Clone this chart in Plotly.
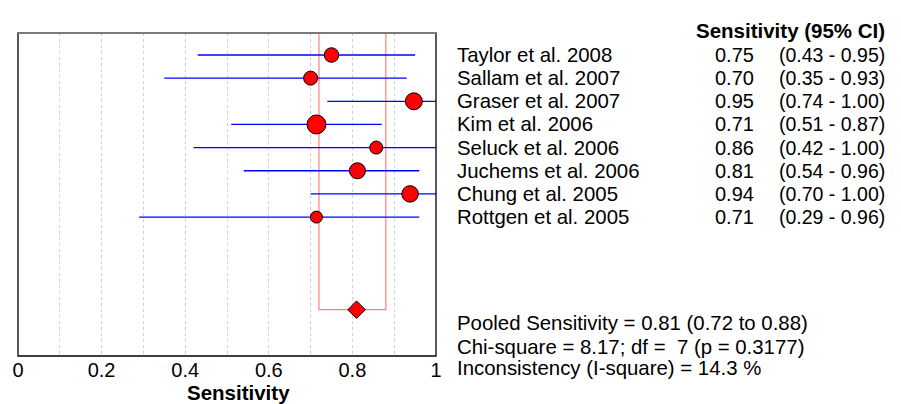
import plotly.graph_objects as go

# ---------------- data ----------------
studies = ["Taylor et al. 2008", "Sallam et al. 2007", "Graser et al. 2007", "Kim et al. 2006",
           "Seluck et al. 2006", "Juchems et al. 2006", "Chung et al. 2005", "Rottgen et al. 2005"]
sens = [0.75, 0.70, 0.947, 0.714, 0.857, 0.812, 0.938, 0.714]
ci_low = [0.43, 0.35, 0.74, 0.51, 0.42, 0.54, 0.70, 0.29]
ci_high = [0.95, 0.93, 1.00, 0.87, 1.00, 0.96, 1.00, 0.96]
pooled = 0.81
pooled_low = 0.72
pooled_high = 0.88
chi_square = 8.17
df = 7
p_value = 0.3177
i_square = 14.3
x_ticks = [0, 0.1, 0.2, 0.3, 0.4, 0.5, 0.6, 0.7, 0.8, 0.9, 1.0]
x_ticktext = ["0", "", "0.2", "", "0.4", "", "0.6", "", "0.8", "", "1"]

# ---------------- style ----------------
marker_sizes = [14.5, 14, 17, 19, 13, 16, 16.5, 12]
FONT = "Liberation Sans, Arial, sans-serif"
rows = list(range(1, len(studies) + 1))
pooled_row = 12
Y_TOP = 0.05
Y_BOT = 14.0

fig = go.Figure()

# pooled CI box (red)
fig.add_trace(go.Scatter(
    x=[pooled_low, pooled_low, pooled_high, pooled_high],
    y=[Y_TOP, pooled_row, pooled_row, Y_TOP],
    mode="lines", line=dict(color="rgba(255,40,40,0.6)", width=1.2),
    hoverinfo="skip", showlegend=False))

# study estimates with CI
fig.add_trace(go.Scatter(
    x=sens, y=rows, mode="markers",
    marker=dict(symbol="circle", size=marker_sizes, color="#ff0000", opacity=1,
                line=dict(color="#000000", width=1)),
    error_x=dict(type="data", symmetric=False,
                 array=[h - s for h, s in zip(ci_high, sens)],
                 arrayminus=[s - l for s, l in zip(sens, ci_low)],
                 color="#0000ff", thickness=1.3, width=0),
    cliponaxis=False, showlegend=False))

# pooled diamond
fig.add_trace(go.Scatter(
    x=[pooled], y=[pooled_row], mode="markers",
    marker=dict(symbol="diamond", size=13.5, color="#ff0000", opacity=1,
                line=dict(color="#000000", width=1)),
    showlegend=False))

L, R, T, B = 16, 465, 33, 48
W, H = 901, 404
pw = W - L - R
ph = H - T - B


def px_x(p):
    return (p - L) / pw


def px_y(p):
    return (H - B - p) / ph


ann = []
for i, name in enumerate(studies):
    ann.append(dict(x=px_x(455), y=rows[i], xref="paper", yref="y", text=name,
                    xanchor="left", yanchor="middle", showarrow=False,
                    font=dict(size=20.4, family=FONT, color="#000")))
    ann.append(dict(x=px_x(758), y=rows[i], xref="paper", yref="y", text=f"{sens[i]:.2f}",
                    xanchor="right", yanchor="middle", showarrow=False,
                    font=dict(size=20, family=FONT, color="#000")))
    ann.append(dict(x=px_x(889), y=rows[i], xref="paper", yref="y",
                    text=f"({ci_low[i]:.2f} - {ci_high[i]:.2f})",
                    xanchor="right", yanchor="middle", showarrow=False,
                    font=dict(size=19.5, family=FONT, color="#000")))

ann.append(dict(x=px_x(889), y=px_y(31), xref="paper", yref="paper",
                text="<b>Sensitivity (95% CI)</b>", xanchor="right", yanchor="middle",
                showarrow=False, font=dict(size=20.5, family=FONT, color="#000")))

summary = [
    (f"Pooled Sensitivity = {pooled:.2f} ({pooled_low:.2f} to {pooled_high:.2f})", 323),
    (f"Chi-square = {chi_square:.2f}; df = \u00a0{df} (p = {p_value:.4f})", 346.5),
    (f"Inconsistency (I-square) = {i_square:.1f} %", 367.5),
]
for txt, yp in summary:
    ann.append(dict(x=px_x(455), y=px_y(yp), xref="paper", yref="paper", text=txt,
                    xanchor="left", yanchor="middle", showarrow=False,
                    font=dict(size=20.4, family=FONT, color="#000")))

ann.append(dict(x=px_x(238), y=px_y(392), xref="paper", yref="paper",
                text="<b>Sensitivity</b>", xanchor="center", yanchor="middle",
                showarrow=False, font=dict(size=20.5, family=FONT, color="#000")))

shapes = [
    dict(type="rect", xref="paper", yref="paper", x0=0, x1=1, y0=0, y1=1,
         line=dict(color="#000000", width=1.3), layer="above"),
    dict(type="line", xref="paper", yref="paper", x0=0, x1=1, y0=1, y1=1,
         line=dict(color="#7a7a7a", width=2), layer="above"),
]

fig.update_layout(
    width=W, height=H,
    margin=dict(l=L, r=R, t=T, b=B, pad=0),
    paper_bgcolor="#ffffff", plot_bgcolor="#ffffff",
    font=dict(family=FONT, size=20, color="#000"),
    xaxis=dict(range=[0, 1], tickvals=x_ticks, ticktext=x_ticktext,
               showgrid=True, gridcolor="#cfcfcf", griddash="dot", gridwidth=1,
               zeroline=False, showline=False, ticks="",
               tickfont=dict(size=20, family=FONT, color="#000"), fixedrange=True),
    yaxis=dict(range=[Y_BOT, Y_TOP], showgrid=False, zeroline=False,
               showticklabels=False, showline=False, ticks="", fixedrange=True),
    annotations=ann, shapes=shapes, showlegend=False,
)

fig.write_html("out.html")
